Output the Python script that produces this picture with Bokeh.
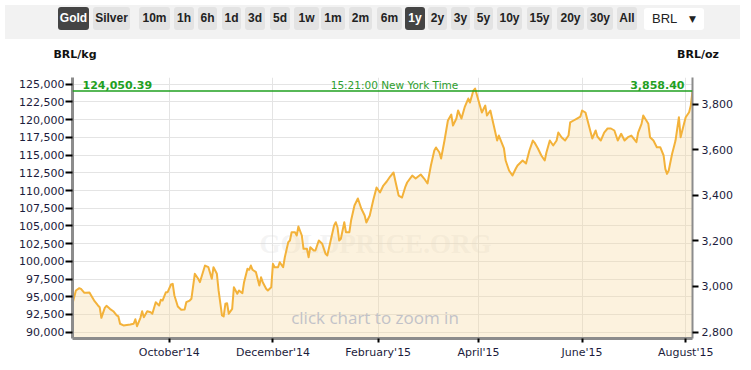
import pandas as pd
from bokeh.plotting import figure
from bokeh.models import (ColumnDataSource, Range1d, LinearAxis, FixedTicker,
                          NumeralTickFormatter, Label, Span, Div)
from bokeh.layouts import column
from bokeh.embed import file_html
from bokeh.resources import INLINE

# ---------------- data ----------------
START_DATE = "2014-08-05"
END_DATE = "2015-08-05"

day_offset = [
    0, 2, 4, 5, 7, 8, 10, 11, 13, 15,
    16, 17, 19, 20, 22, 24, 26, 27, 28, 30,
    34, 36, 37, 38, 40, 41, 42, 44, 46, 47,
    49, 51, 52, 53, 55, 56, 58, 59, 60, 62,
    64, 66, 67, 69, 70, 72, 74, 75, 78, 80,
    82, 83, 85, 86, 88, 89, 90, 91, 92, 94,
    95, 97, 98, 100, 101, 103, 104, 105, 106, 108,
    110, 111, 112, 114, 115, 117, 118, 119, 121, 122,
    124, 125, 127, 128, 129, 131, 132, 133, 135, 136,
    138, 139, 140, 142, 143, 145, 147, 149, 150, 152,
    154, 155, 156, 157, 158, 160, 161, 163, 164, 166,
    168, 170, 172, 173, 175, 177, 179, 181, 183, 185,
    187, 189, 190, 192, 194, 196, 197, 200, 202, 205,
    207, 209, 211, 213, 214, 216, 217, 219, 221, 223,
    224, 226, 227, 229, 231, 233, 234, 236, 237, 239,
    241, 243, 244, 246, 248, 250, 251, 254, 255, 257,
    259, 261, 262, 265, 267, 269, 271, 272, 274, 276,
    278, 279, 281, 283, 285, 286, 288, 290, 292, 293,
    295, 297, 299, 300, 302, 304, 306, 308, 309, 311,
    313, 315, 317, 319, 321, 323, 325, 327, 329, 332,
    333, 335, 336, 339, 340, 342, 344, 346, 348, 349,
    350, 351, 353, 354, 355, 357, 358, 360, 361, 363,
    364, 365,
]

price_brl_kg = [
    94000, 95890, 96210, 96120, 95560, 95560, 95600, 95180, 94380, 93770,
    93530, 92030, 93440, 93730, 93300, 92960, 92360, 92220, 91190, 90950,
    91090, 91190, 91830, 90850, 92030, 92960, 92120, 92960, 92820, 92600,
    94230, 93770, 94570, 94470, 95650, 95650, 96730, 96830, 95180, 93630,
    93160, 93200, 94230, 94470, 94710, 98240, 97540, 97060, 99410, 99170,
    97540, 99170, 98240, 95890, 92360, 92220, 94010, 94090, 92600, 93300,
    96350, 95420, 95890, 95500, 97060, 98950, 98810, 99410, 98810, 98470,
    96590, 97760, 97060, 96130, 95890, 96350, 99650, 99170, 99170, 99880,
    99170, 100580, 102700, 102940, 104110, 104110, 103650, 104920, 103650, 101770,
    101770, 100580, 102000, 101530, 101530, 102940, 102480, 101060, 100820, 102940,
    105060, 105520, 104820, 102940, 103180, 105520, 104110, 104110, 105760, 107880,
    108870, 107460, 106470, 105480, 106470, 108590, 110420, 109720, 110700, 111270,
    111970, 112540, 111410, 109290, 109010, 110560, 111130, 112110, 111690, 112260,
    111690, 110990, 113530, 115640, 116070, 115360, 114510, 117050, 119880, 120720,
    119170, 120160, 121290, 120160, 121850, 122980, 122420, 124110, 124390, 122700,
    121010, 121990, 120580, 121290, 119170, 117050, 117760, 115930, 114230, 112820,
    112110, 113100, 113530, 114230, 113810, 115640, 117050, 116770, 115930, 114940,
    114230, 115360, 117050, 116350, 117050, 118180, 117480, 117050, 117760, 119600,
    119880, 120160, 120440, 121290, 121010, 119170, 117340, 118470, 117620, 117050,
    118180, 118750, 118750, 118470, 117050, 118000, 117050, 117520, 117760, 116820,
    118180, 119410, 120580, 119410, 117520, 117050, 116110, 116110, 114940, 113060,
    112350, 112820, 115180, 116120, 117050, 120340, 117520, 119410, 120340, 121050,
    121990, 124050.39,
]

last_price_kg = 124050.39
last_price_oz = 3858.40
KG_TO_OZ = 32.1507466
time_label = "15:21:00 New York Time"

x_tick_dates = ["2014-10-01", "2014-12-01", "2015-02-01",
                "2015-04-01", "2015-06-01", "2015-08-01"]
x_tick_labels = ["October'14", "December'14", "February'15",
                 "April'15", "June'15", "August'15"]

y_ticks_kg = [90000, 92500, 95000, 97500, 100000, 102500, 105000, 107500,
              110000, 112500, 115000, 117500, 120000, 122500, 125000]
y_ticks_oz = [2800, 3000, 3200, 3400, 3600, 3800]

Y_MIN, Y_MAX = 89110, 125950

metal_buttons = ["Gold", "Silver"]
period_buttons = ["10m", "1h", "6h", "1d", "3d", "5d", "1w", "1m", "2m",
                  "6m", "1y", "2y", "3y", "5y", "10y", "15y", "20y", "30y", "All"]
active_buttons = ["Gold", "1y"]
currency = "BRL"
unit_left = "kg"
unit_right = "oz"

# ---------------- top button bar + unit headers ----------------
btn_left = [53, 88, 134, 169, 193, 217, 240, 265, 289, 316, 344,
            372, 400, 423, 446, 469, 492, 522, 552, 582, 612]
btn_width = [31, 37, 31, 20, 19, 19, 20, 20, 25, 24, 23,
             25, 20, 19, 19, 19, 25, 25, 27, 26, 20]

parts = []
for label, left, w in zip(metal_buttons + period_buttons, btn_left, btn_width):
    active = label in active_buttons
    bg = "#444444" if active else "#e3e3e3"
    fg = "#ffffff" if active else "#222222"
    parts.append(
        f'<div style="position:absolute;left:{left}px;top:2px;width:{w}px;height:23px;'
        f'line-height:23px;text-align:center;border-radius:3px;background:{bg};color:{fg};'
        f"font-family:'Liberation Sans',Arial,sans-serif;font-weight:bold;font-size:12px;\">"
        f'{label}</div>')
parts.append(
    '<div style="position:absolute;left:639px;top:3px;width:60px;height:22px;'
    'background:#ffffff;border-radius:3px;">'
    f"<span style=\"position:absolute;left:8px;top:0px;line-height:22px;"
    f"font-family:'Liberation Sans',Arial,sans-serif;font-size:13px;color:#222;\">{currency}</span>"
    '<span style="position:absolute;left:45px;top:0px;line-height:22px;'
    'font-family:\'DejaVu Sans\',sans-serif;font-size:9px;color:#222;">&#9660;</span>'
    '</div>')

unit_style = ("position:absolute;top:42px;width:60px;height:16px;line-height:16px;"
              "text-align:center;font-family:'DejaVu Sans',sans-serif;font-weight:bold;"
              "font-size:11px;color:#111;")
header_html = (
    '<div style="position:relative;width:735px;height:62px;background:#ffffff;">'
    '<div style="position:absolute;left:0;top:0;width:735px;height:34px;background:#f2f2f2;">'
    + "".join(parts) + "</div>"
    f'<div style="{unit_style}left:40px;">{currency}/{unit_left}</div>'
    f'<div style="{unit_style}left:663px;">{currency}/{unit_right}</div>'
    "</div>")
header = Div(text=header_html, width=735, height=62)

# ---------------- chart ----------------
dates = pd.to_datetime(START_DATE) + pd.to_timedelta(day_offset, unit="D")
src = ColumnDataSource(data=dict(x=dates, y=price_brl_kg))

p = figure(width=735, height=290, x_axis_type="datetime",
           x_range=Range1d(pd.to_datetime(START_DATE), pd.to_datetime(END_DATE)),
           y_range=Range1d(Y_MIN, Y_MAX),
           output_backend="svg", toolbar_location=None,
           min_border_left=72, min_border_right=41,
           min_border_top=5, min_border_bottom=24)
p.outline_line_color = None
p.background_fill_color = "white"
p.border_fill_color = "white"

p.extra_y_ranges = {"oz": Range1d(Y_MIN / KG_TO_OZ, Y_MAX / KG_TO_OZ)}

tick_ms = [float(pd.Timestamp(d).value // 10**6) for d in x_tick_dates]
xticker = FixedTicker(ticks=tick_ms)
yticker = FixedTicker(ticks=y_ticks_kg)

label_font = "DejaVu Sans"
label_color = "#1c1c3c"

xa = p.xaxis[0]
xa.ticker = xticker
xa.major_label_overrides = {t: l for t, l in zip(tick_ms, x_tick_labels)}
xa.axis_line_color = "#8c8c8c"
xa.axis_line_width = 3
xa.major_tick_line_color = "black"
xa.major_tick_line_width = 2
xa.major_tick_in = 0
xa.major_tick_out = 4
xa.minor_tick_line_color = None
xa.major_label_standoff = 3
xa.major_label_text_font = label_font
xa.major_label_text_font_size = "11px"
xa.major_label_text_color = label_color

ya = p.yaxis[0]
ya.ticker = yticker
ya.formatter = NumeralTickFormatter(format="0,0")
ya.axis_line_color = "#8c8c8c"
ya.axis_line_width = 3
ya.major_tick_line_color = "black"
ya.major_tick_line_width = 2
ya.major_tick_in = 0
ya.major_tick_out = 7
ya.minor_tick_line_color = None
ya.major_label_standoff = 1
ya.major_label_text_font = label_font
ya.major_label_text_font_size = "11px"
ya.major_label_text_color = label_color

ra = LinearAxis(y_range_name="oz", ticker=FixedTicker(ticks=y_ticks_oz),
                formatter=NumeralTickFormatter(format="0,0"))
ra.axis_line_color = "#8c8c8c"
ra.axis_line_width = 2
ra.major_tick_line_color = "black"
ra.major_tick_line_width = 2
ra.major_tick_in = 0
ra.major_tick_out = 6
ra.minor_tick_line_color = None
ra.major_label_standoff = 3
ra.major_label_text_font = label_font
ra.major_label_text_font_size = "11px"
ra.major_label_text_color = label_color
p.add_layout(ra, "right")

p.xgrid.ticker = xticker
p.ygrid.ticker = yticker
p.xgrid.grid_line_color = "#e4e4e4"
p.ygrid.grid_line_color = "#e4e4e4"

# watermark under the data
wm = Label(x=303, y=95, x_units="screen", y_units="screen", text="GOLDPRICE.ORG",
           text_align="center", text_baseline="middle",
           text_font="Liberation Serif", text_font_style="bold",
           text_font_size="27px", text_color="#d8d8d8", text_alpha=0.3,
           level="underlay")
p.add_layout(wm)

p.varea(x="x", y1=Y_MIN, y2="y", source=src, fill_color="#F7D9A0", fill_alpha=0.35)
p.line(x="x", y="y", source=src, line_color="#F3B23A", line_width=2,
       line_join="round")

p.add_layout(Span(location=last_price_kg, dimension="width",
                  line_color="#1fa01f", line_width=1.5))

green = "#1fa01f"
p.add_layout(Label(x=10, y=254, x_units="screen", y_units="screen",
                   text=f"{last_price_kg:,.2f}", text_align="left", text_baseline="middle",
                   text_font=label_font, text_font_style="bold",
                   text_font_size="11px", text_color=green))
p.add_layout(Label(x=612, y=254, x_units="screen", y_units="screen",
                   text=f"{last_price_oz:,.2f}", text_align="right", text_baseline="middle",
                   text_font=label_font, text_font_style="bold",
                   text_font_size="11px", text_color=green))
p.add_layout(Label(x=322, y=254, x_units="screen", y_units="screen",
                   text=time_label, text_align="center", text_baseline="middle",
                   text_font=label_font, text_font_size="10.5px", text_color="#2e9e2e"))

p.add_layout(Label(x=302.5, y=21, x_units="screen", y_units="screen",
                   text="click chart to zoom in", text_align="center",
                   text_baseline="middle", text_font="Open Sans",
                   text_font_size="17px", text_color="#c2c2c8"))

layout = column(header, p)
open("out.html", "w").write(file_html(layout, INLINE))
